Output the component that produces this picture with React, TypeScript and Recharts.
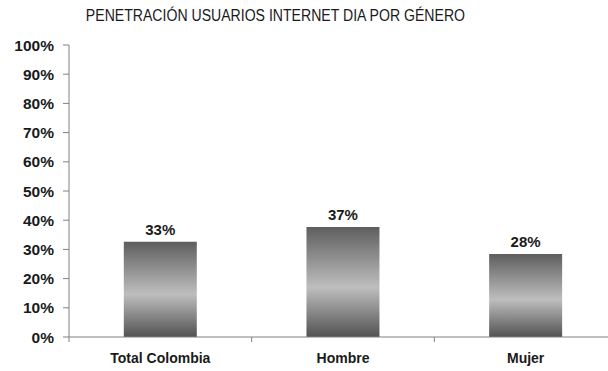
import React from 'react';
import { BarChart, Bar, XAxis, YAxis, LabelList } from 'recharts';

const categories = ['Total Colombia', 'Hombre', 'Mujer'];
const values = [32.6, 37.7, 28.4];
const valueLabels = ['33%', '37%', '28%'];
const yTicks = [0, 10, 20, 30, 40, 50, 60, 70, 80, 90, 100];

const data = categories.map((name, i) => ({ name, value: values[i], label: valueLabels[i] }));

const FONT = '"Liberation Sans", Arial, sans-serif';
const CHART_W = 625;
const CHART_H = 371;
const MARGIN = { top: 45, right: 8, bottom: 4, left: 0 };
const Y_W = 69;
const BAND = (CHART_W - MARGIN.left - MARGIN.right - Y_W) / categories.length;

const CategoryTick = (props: any) => {
    const { x, y, payload, index } = props;
    const half = BAND / 2;
    return (
        <g>
            <line x1={x - half} y1={y} x2={x - half} y2={y + 5} stroke="#808080" />
            {index === categories.length - 1 && (
                <line x1={x + half} y1={y} x2={x + half} y2={y + 5} stroke="#808080" />
            )}
            <text x={x} y={y + 26} textAnchor="middle" fill="#1a1a1a" fontSize={14} fontWeight="bold" fontFamily={FONT}>
                {payload.value}
            </text>
        </g>
    );
};

const App: React.FC = () => {
    return (
        <div style={{ position: 'absolute', left: 0, top: 0, width: 608, height: 371, overflow: 'hidden', background: '#fff', fontFamily: FONT }}>
            <div style={{ position: 'absolute', left: 0, top: 7, width: 550, textAlign: 'center', fontSize: 16, color: '#1a1a1a', whiteSpace: 'nowrap' }}>
                <span style={{ display: 'inline-block', transform: 'scaleX(0.88)' }}>
                    PENETRACIÓN USUARIOS INTERNET DIA POR GÉNERO
                </span>
            </div>
            <BarChart width={CHART_W} height={CHART_H} data={data} margin={MARGIN} barCategoryGap="30%">
                <defs>
                    <linearGradient id="barShade" x1="0" y1="0" x2="0" y2="1">
                        <stop offset="0%" stopColor="#5e5e5e" />
                        <stop offset="55%" stopColor="#bebebe" />
                        <stop offset="100%" stopColor="#525252" />
                    </linearGradient>
                </defs>
                <XAxis
                    dataKey="name"
                    stroke="#808080"
                    tickLine={false}
                    tickSize={0}
                    tickMargin={0}
                    height={30}
                    interval={0}
                    tick={<CategoryTick />}
                />
                <YAxis
                    width={Y_W}
                    domain={[0, 100]}
                    ticks={yTicks}
                    tickFormatter={(v: number) => `${v}%`}
                    stroke="#808080"
                    tickSize={6}
                    tickMargin={9}
                    tick={{ fill: '#1a1a1a', fontSize: 15.5, fontWeight: 'bold', fontFamily: FONT }}
                />
                <Bar dataKey="value" fill="url(#barShade)" isAnimationActive={false}>
                    <LabelList
                        dataKey="label"
                        position="top"
                        offset={7}
                        fill="#1a1a1a"
                        fontSize={15}
                        fontWeight="bold"
                        fontFamily={FONT}
                    />
                </Bar>
            </BarChart>
        </div>
    );
};

export default App;
